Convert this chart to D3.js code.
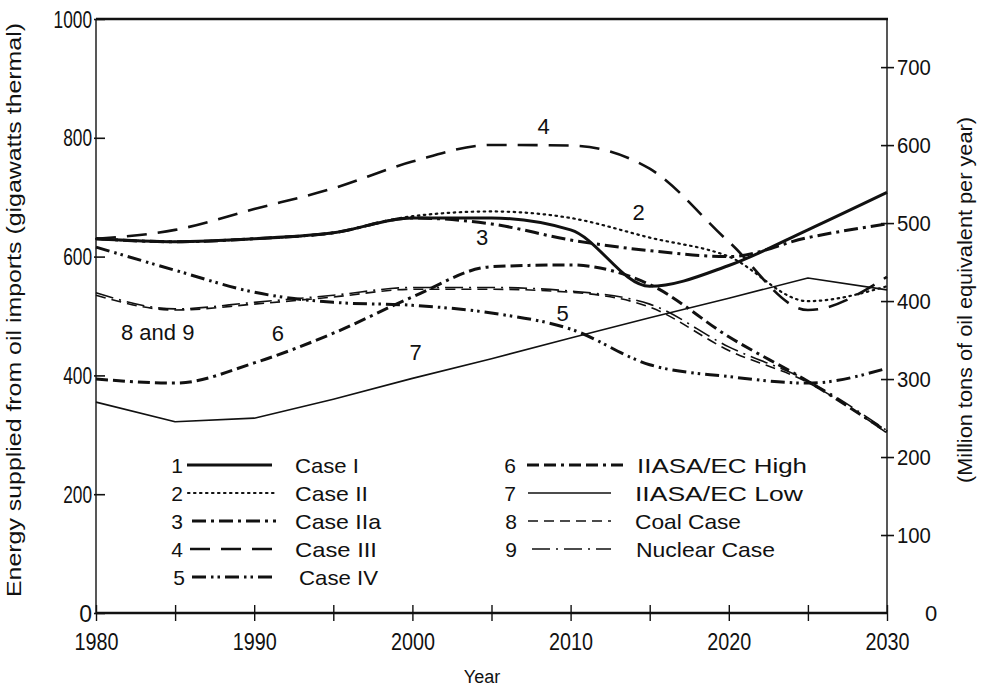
<!DOCTYPE html>
<html><head><meta charset="utf-8">
<script src="https://cdn.jsdelivr.net/npm/d3@7"></script>
<style>
body{margin:0;background:#fff;}
svg text{font-family:"Liberation Sans",Arial,sans-serif;fill:#111;}
</style></head><body>
<svg id="c" width="981" height="687"></svg>
<script>
const years = [1980,1985,1990,1995,2000,2005,2010,2015,2020,2025,2030];
const caseI    = [630,625,630,640,665,665,645,550,585,645,708];
const caseII   = [630,625,630,640,668,676,665,632,600,525,550];
const caseIIa  = [630,625,630,640,665,655,628,610,600,632,655];
const caseIII  = [630,645,680,715,760,788,787,748,625,510,566];
const caseIV   = [616,577,540,523,518,505,478,418,398,387,412];
const iiasaHigh= [394,387,421,471,532,583,586,553,465,390,305];
const iiasaLow = [355,322,328,360,395,428,463,497,530,564,544];
const coalCase = [535,510,520,532,545,545,540,515,442,388,303];
const nuclCase = [539,512,523,535,548,548,542,520,448,391,307];

const seriesNames = ["Case I","Case II","Case IIa","Case III","Case IV","IIASA/EC High","IIASA/EC Low","Coal Case","Nuclear Case"];
const seriesValues = [caseI,caseII,caseIIa,caseIII,caseIV,iiasaHigh,iiasaLow,coalCase,nuclCase];
const leftTicks = [0,200,400,600,800,1000];
const rightTicks = [0,100,200,300,400,500,600,700];
const xTickLabels = [1980,1990,2000,2010,2020,2030];
const xTicks = d3.range(1980,2031,5);
const gwToMtoe = 0.7617;

const styles = [
  {w:3,   dash:null,            curve:true},
  {w:2.2, dash:"1.5,4.5",       curve:true, cap:"round"},
  {w:3,   dash:"14,5,3,5",      curve:true},
  {w:2.6, dash:"20,11",         curve:true},
  {w:3,   dash:"14,5,2.5,4,2.5,5", curve:true},
  {w:3,   dash:"12,5,12,5,3,5", curve:true},
  {w:1.6, dash:null,            curve:false},
  {w:1.6, dash:"10,6",          curve:true},
  {w:1.6, dash:"18,6,2,6",      curve:true}
];

const svg = d3.select("#c");
const x = d3.scaleLinear().domain([1980,2030]).range([96,887]);
const y = d3.scaleLinear().domain([0,1000]).range([613,19]);
const yR = d3.scaleLinear().domain([0,1000*gwToMtoe]).range([613,19]);

function narrow(sel, perDigit){
  sel.each(function(){
    const s = this.textContent;
    if (s.length > 1) d3.select(this).attr("textLength", s.length*perDigit).attr("lengthAdjust","spacingAndGlyphs");
  });
}

// frame
svg.append("line").attr("x1",96).attr("x2",888).attr("y1",19).attr("y2",19).attr("stroke","#111").attr("stroke-width",2.6);
svg.append("line").attr("x1",96).attr("x2",96).attr("y1",19).attr("y2",613).attr("stroke","#111").attr("stroke-width",1.4);
svg.append("line").attr("x1",887).attr("x2",887).attr("y1",19).attr("y2",613).attr("stroke","#111").attr("stroke-width",1.4);

// left axis
const gl = svg.append("g").attr("transform","translate(96,0)")
  .call(d3.axisLeft(y).tickValues(leftTicks).tickSize(-9).tickPadding(4).tickFormat(d3.format("d")));
gl.select(".domain").remove();
gl.selectAll(".tick line").attr("x1",-2).attr("stroke","#111").attr("stroke-width",1.6);
gl.selectAll(".tick text").attr("font-size",23).attr("fill","#111").attr("dy","0.35em").call(narrow,9.6);

// right axis
const gr = svg.append("g").attr("transform","translate(887,0)")
  .call(d3.axisRight(yR).tickValues(rightTicks).tickSize(7).tickPadding(3).tickFormat(d3.format("d")));
gr.select(".domain").remove();
gr.selectAll(".tick line").attr("x1",-6).attr("stroke","#111").attr("stroke-width",1.6);
gr.selectAll(".tick text").attr("font-size",22).attr("fill","#111").attr("dy","0.35em").call(narrow,11.3);
gr.selectAll(".tick").filter(d=>d===0).select("text").attr("x",38);
gr.selectAll(".tick").filter(d=>d===0).select("line").remove();

// bottom axis
const gb = svg.append("g").attr("transform","translate(0,613)")
  .call(d3.axisBottom(x).tickValues(xTicks).tickSize(8).tickPadding(13)
    .tickFormat(d => xTickLabels.includes(d) ? String(d) : ""));
gb.select(".domain").attr("stroke","#111").attr("stroke-width",2.6).attr("d","M96,0H888");
gb.selectAll(".tick line").attr("y1",-8).attr("stroke","#111").attr("stroke-width",1.4);
gb.selectAll(".tick text").attr("font-size",23).attr("fill","#111").call(narrow,11);

// axis titles
svg.append("text").attr("transform","translate(21,310) rotate(-90)").attr("text-anchor","middle")
  .attr("font-size",21).attr("textLength",574).attr("lengthAdjust","spacingAndGlyphs")
  .text("Energy supplied from oil imports (gigawatts thermal)");
svg.append("text").attr("transform","translate(972,300) rotate(-90)").attr("text-anchor","middle")
  .attr("font-size",20).attr("textLength",366).attr("lengthAdjust","spacingAndGlyphs")
  .text("(Million tons of oil equivalent per year)");
svg.append("text").attr("x",482).attr("y",683).attr("text-anchor","middle").attr("font-size",18).text("Year");

// lines
seriesValues.forEach((vals,i)=>{
  const st = styles[i];
  const line = d3.line().x((d,j)=>x(years[j])).y(d=>y(d))
    .curve(st.curve ? d3.curveMonotoneX : d3.curveLinear);
  svg.append("path").attr("d",line(vals)).attr("fill","none").attr("stroke","#111")
    .attr("stroke-width",st.w).attr("stroke-dasharray",st.dash)
    .attr("stroke-linecap",st.cap||"butt").attr("stroke-linejoin","round");
});

// in-chart labels
const chartLabels = [
  {t:"4",yr:2008.3,v:820},{t:"2",yr:2014.3,v:675},{t:"3",yr:2004.4,v:633},
  {t:"6",yr:1991.5,v:471},{t:"5",yr:2009.5,v:505},{t:"7",yr:2000.2,v:439},{t:"8 and 9",yr:1983.9,v:473}
];
chartLabels.forEach(l=>{
  svg.append("text").attr("x",x(l.yr)).attr("y",y(l.v)).attr("text-anchor","middle")
    .attr("font-size",22).attr("dy","0.35em").text(l.t);
});

// legend
const legendLayout = [
  {nx:177,l1:187,l2:272,tx:295,tl:64},
  {nx:177,l1:188,l2:276,tx:295,tl:73},
  {nx:177,l1:192,l2:276,tx:295,tl:86},
  {nx:177,l1:190,l2:274,tx:295,tl:82},
  {nx:179,l1:192,l2:276,tx:299,tl:79},
  {nx:510,l1:527,l2:627,tx:637,tl:170},
  {nx:510,l1:528,l2:611,tx:635,tl:168},
  {nx:511,l1:528,l2:611,tx:635,tl:106},
  {nx:511,l1:532,l2:611,tx:636,tl:139}
];
seriesNames.forEach((n,i)=>{
  const L = legendLayout[i];
  const yy = 465 + (i<5 ? i : i-5)*28;
  const st = styles[i];
  svg.append("text").attr("x",L.nx).attr("y",yy).attr("dy","0.36em").attr("text-anchor","middle").attr("font-size",21).text(String(i+1));
  svg.append("line").attr("x1",L.l1).attr("x2",L.l2).attr("y1",yy).attr("y2",yy).attr("stroke","#111")
    .attr("stroke-width",st.w).attr("stroke-dasharray",st.dash).attr("stroke-linecap",st.cap||"butt");
  svg.append("text").attr("x",L.tx).attr("y",yy).attr("dy","0.36em").attr("font-size",21)
    .attr("textLength",L.tl).attr("lengthAdjust","spacingAndGlyphs").text(n);
});
</script></body></html>
